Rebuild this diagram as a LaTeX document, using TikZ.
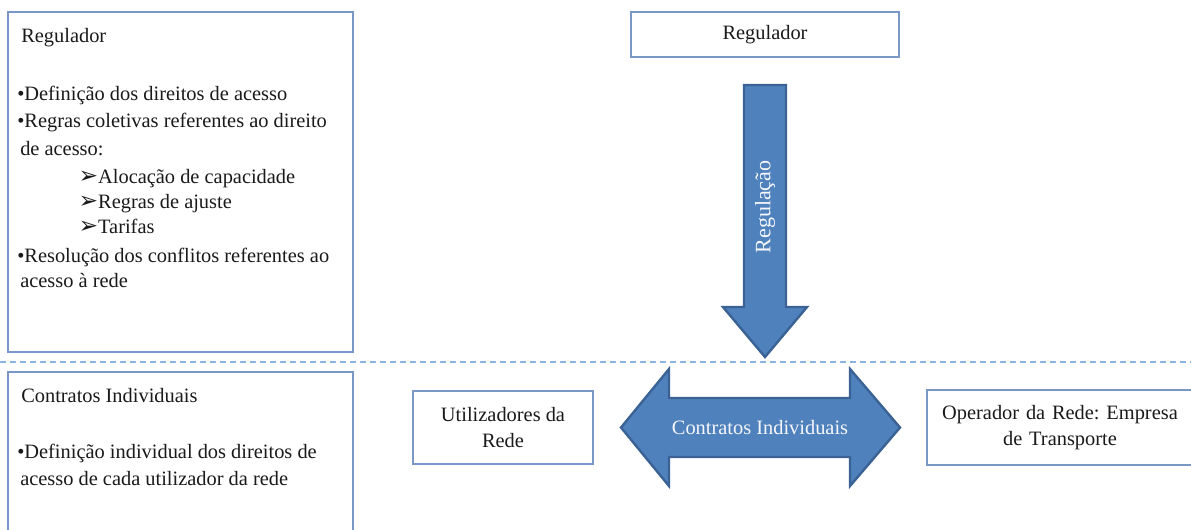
\documentclass[tikz,border=0pt]{standalone}
\usepackage{fontspec}
\setmainfont{Liberation Serif}
\newfontfamily\symfont{DejaVu Sans}
\frenchspacing
\definecolor{ink}{HTML}{1A1A1A}
\definecolor{boxblue}{HTML}{7A98C6}
\definecolor{arrowfill}{HTML}{4F81BD}
\definecolor{arrowedge}{HTML}{3A6295}
\definecolor{sepblue}{HTML}{8DB3E2}
\tikzset{
  frame/.style={draw=boxblue, line width=1.2pt, fill=white, inner sep=0pt},
  txt/.style={anchor=base west, inner sep=0pt, text=ink, font=\fontsize{15.3}{19.5}\selectfont},
  ctxt/.style={align=center, text=ink, font=\fontsize{15.3}{19.5}\selectfont},
  bigarrow/.style={fill=arrowfill, draw=arrowedge, line width=1.8pt, line join=miter},
  wtxt/.style={text=white!94!arrowfill, inner sep=0pt, font=\fontsize{15.3}{19.5}\selectfont},
  sep/.style={draw=sepblue, line width=1.5pt, dash pattern=on 4.5pt off 3pt}
}
\newcommand{\arrowitem}{\hspace*{46pt}{\symfont\fontsize{17.5}{18}\selectfont ➢}}
\begin{document}
\begin{tikzpicture}[x=0.75pt, y=-0.75pt]
\useasboundingbox (0,0) rectangle (1191,529);

% separator between the regulatory level and the contractual level
\coordinate (sepL) at (0,362);
\coordinate (sepR) at (1191,362);
\draw[sep] (sepL) -- (sepR);

% left column: description boxes
\node[frame, minimum width=258.75pt, minimum height=255pt] (regbox) at (180.5,182) {};
\node[frame, minimum width=258.75pt, minimum height=126pt] (ctrbox) at (180.5,456) {};

\node[txt] (r0) at (21,42) {Regulador};
\node[txt] (r1) at (17,100) {•Definição dos direitos de acesso};
\node[txt] (r2) at (17,127) {•Regras coletivas referentes ao direito};
\node[txt] (r3) at (20,155) {de acesso:};
\node[txt] (r4) at (17,183) {\arrowitem Alocação de capacidade};
\node[txt] (r5) at (17,208) {\arrowitem Regras de ajuste};
\node[txt] (r6) at (17,233) {\arrowitem Tarifas};
\node[txt] (r7) at (17,262) {•Resolução dos conflitos referentes ao};
\node[txt] (r8) at (20,287) {acesso à rede};

\node[txt] (c0) at (21,402) {Contratos Individuais};
\node[txt] (c1) at (17,458) {•Definição individual dos direitos de};
\node[txt] (c2) at (20,485) {acesso de cada utilizador da rede};

% right part: actors
\node[frame, ctxt, minimum width=201pt, minimum height=33.75pt] (reg) at (765,34.5) {Regulador};
\node[frame, ctxt, minimum width=135pt, minimum height=54.75pt] (util) at (503,427.5) {Utilizadores da\\Rede};
\node[frame, ctxt, minimum width=199.5pt, minimum height=56.25pt, text width=190pt] (oper) at (1060,427.5) {Operador da Rede: Empresa\\de Transporte};

% regulation arrow
\draw[bigarrow] (744,85) -- (786,85) -- (786,307) -- (807,307) -- (765,357)
  -- (723,307) -- (744,307) -- cycle;
\node[wtxt, rotate=90, font=\fontsize{16.5}{19.5}\selectfont] (regl) at (765,207) {Regulação};

% individual contracts double arrow
\draw[bigarrow] (621,427.5) -- (669,369) -- (669,398) -- (850,398) -- (850,369)
  -- (900,427.5) -- (850,486) -- (850,457) -- (669,457) -- (669,486) -- cycle;
\node[wtxt] (ctrl) at (760,428) {Contratos Individuais};
\end{tikzpicture}
\end{document}
